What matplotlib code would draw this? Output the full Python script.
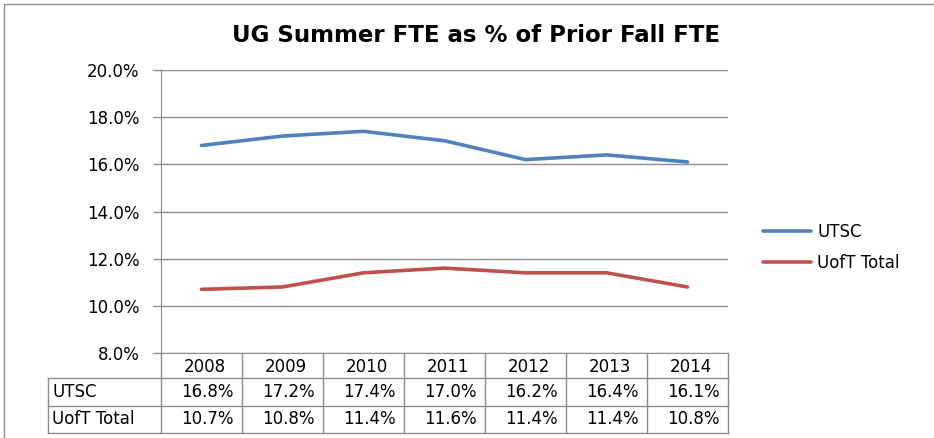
import matplotlib
matplotlib.use("Agg")
import matplotlib.pyplot as plt
from matplotlib.lines import Line2D
from matplotlib.patches import Rectangle
import matplotlib.transforms as mtransforms

years = ["2008", "2009", "2010", "2011", "2012", "2013", "2014"]
utsc = [16.8, 17.2, 17.4, 17.0, 16.2, 16.4, 16.1]
uoft = [10.7, 10.8, 11.4, 11.6, 11.4, 11.4, 10.8]
series_names = ["UTSC", "UofT Total"]
yticks = [8, 10, 12, 14, 16, 18, 20]
title = "UG Summer FTE as % of Prior Fall FTE"

plt.rcParams['font.family'] = ["DejaVu Sans"]

W, H = 934, 438
fig = plt.figure(figsize=(W / 100, H / 100), dpi=100)

def fx(px):
    return px / W

def fy(py):
    return 1 - py / H

# outer chart border (right and bottom edges fall outside the image)
fig.patches.append(Rectangle((fx(4), fy(445)), fx(940), fy(4) - fy(445),
                             transform=fig.transFigure, fill=False,
                             edgecolor="#8c8c8c", linewidth=1.0, clip_on=False))

left, right, top, bottom = 161, 728, 70, 353
ax = fig.add_axes([fx(left), fy(bottom), fx(right - left), fy(top) - fy(bottom)])

x = list(range(len(years)))
blue = "#4F81BD"
red = "#C0504D"
grid_c = "#8c8c8c"

ax.plot(x, utsc, color=blue, linewidth=2.6, label=series_names[0], solid_capstyle="round")
ax.plot(x, uoft, color=red, linewidth=2.6, label=series_names[1], solid_capstyle="round")

ax.set_xlim(-0.5, len(years) - 0.5)
ax.set_ylim(yticks[0], yticks[-1])
ax.set_yticks(yticks)
fs = 12
ax.set_yticklabels([f"{v:.1f}%" for v in yticks], fontsize=fs)
ax.set_xticks([])
ax.yaxis.grid(True, color=grid_c, linewidth=1.0)
ax.set_axisbelow(True)
for s in ["top", "right"]:
    ax.spines[s].set_visible(False)
ax.spines["left"].set_color(grid_c)
ax.spines["bottom"].set_color(grid_c)
ax.tick_params(axis="y", length=5.8, width=1.0, color=grid_c, pad=9.5, labelcolor="black")

# data table below axes (x in data coords, y in axes coords)
trans = mtransforms.blended_transform_factory(ax.transData, ax.transAxes)
ph = bottom - top
def ay(py):
    return (bottom - py) / ph

colw = (right - left) / len(years)
row_y = [353, 378, 406, 433]
tbl_c = "#8c8c8c"
for i in range(len(years) + 1):
    ax.add_line(Line2D([i - 0.5, i - 0.5], [ay(row_y[0]), ay(row_y[-1])], transform=trans,
                       color=tbl_c, linewidth=1.0, clip_on=False))
label_left_data = -0.5 - (left - 48) / colw
for yy in row_y[1:]:
    ax.add_line(Line2D([label_left_data, len(years) - 0.5], [ay(yy), ay(yy)], transform=trans,
                       color=tbl_c, linewidth=1.0, clip_on=False))
ax.add_line(Line2D([label_left_data, label_left_data], [ay(row_y[1]), ay(row_y[-1])], transform=trans,
                   color=tbl_c, linewidth=1.0, clip_on=False))

val_right = 0.5 - 8 / colw
for i, yr in enumerate(years):
    ax.text(i + 0.04, ay((row_y[0] + row_y[1]) / 2 + 1), yr, transform=trans, ha="center", va="center",
            fontsize=fs, clip_on=False)
    ax.text(i + val_right, ay((row_y[1] + row_y[2]) / 2), f"{utsc[i]:.1f}%", transform=trans,
            ha="right", va="center", fontsize=fs, clip_on=False)
    ax.text(i + val_right, ay((row_y[2] + row_y[3]) / 2), f"{uoft[i]:.1f}%", transform=trans,
            ha="right", va="center", fontsize=fs, clip_on=False)
for r, name in enumerate(series_names):
    ax.text(label_left_data + 4 / colw, ay((row_y[r + 1] + row_y[r + 2]) / 2), name, transform=trans,
            ha="left", va="center", fontsize=fs, clip_on=False)

fig.text(fx(476), fy(36), title, ha="center", va="center", fontsize=16.5, fontweight="bold")

leg = fig.legend(loc="upper left", bbox_to_anchor=(fx(763), fy(223)), frameon=False,
                 fontsize=fs, handlelength=2.85, handletextpad=0.4, labelspacing=0.78,
                 borderaxespad=0, borderpad=0.0)

fig.savefig("out.png", dpi=100)
